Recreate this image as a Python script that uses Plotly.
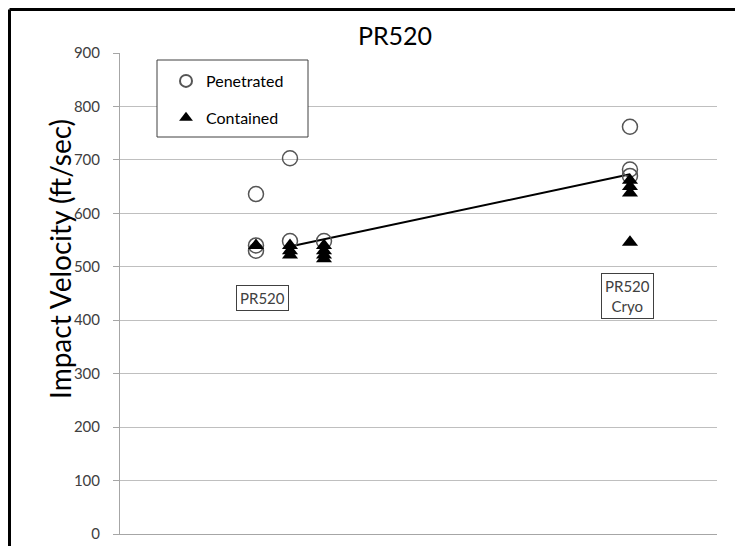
import plotly.graph_objects as go

# Data
pen_x = [1, 1, 1, 1.25, 1.25, 1.5, 3.75, 3.75, 3.75]
pen_y = [636, 540, 530, 703, 548, 548, 762, 682, 670]
con_x = [1, 1.25, 1.25, 1.25, 1.5, 1.5, 1.5, 1.5, 3.75, 3.75, 3.75, 3.75]
con_y = [540, 540, 530, 522, 540, 530, 522, 515, 662, 650, 638, 546]
trend_x = [1.25, 3.75]
trend_y = [538, 673]
label_x = [1.045, 3.735]
label_y = [441, 446]
label_text = ["PR520", "PR520<br>Cryo"]
yticks = [0, 100, 200, 300, 400, 500, 600, 700, 800, 900]

FONT = "Lato, 'Open Sans', sans-serif"

# screen-pixel helpers (page body has an 8px margin; plot area spans x 120..717, y 53..534)
def px(p):
    return (p - 120) / 597

def py(p):
    return (534 - p) / 481

fig = go.Figure()
fig.add_trace(go.Scatter(
    x=trend_x, y=trend_y, mode="lines",
    line=dict(color="black", width=2), showlegend=False, hoverinfo="skip"))
fig.add_trace(go.Scatter(
    x=pen_x, y=pen_y, mode="markers", name="Penetrated", legendgroup="a",
    marker=dict(symbol="circle-open", size=15, color="#555555",
                line=dict(color="#555555", width=1.5))))
fig.add_trace(go.Scatter(
    x=con_x, y=con_y, mode="markers", name="Contained", legendgroup="b",
    marker=dict(symbol="triangle-up", size=14, color="black")))

for lx, ly, lt in zip(label_x, label_y, label_text):
    fig.add_annotation(x=lx, y=ly, text=lt, showarrow=False,
                       font=dict(family=FONT, size=15, color="#404040"),
                       bordercolor="#404040", borderwidth=1, borderpad=3,
                       bgcolor="white")

# Legend box
fig.add_shape(type="rect", xref="paper", yref="paper",
              x0=px(157), x1=px(308), y0=py(137), y1=py(60),
              line=dict(color="#404040", width=1), fillcolor="white", layer="above")

# Outer border (left and top edges)
fig.add_shape(type="line", xref="paper", yref="paper",
              x0=px(9.5), x1=px(9.5), y0=py(560), y1=py(9.5),
              line=dict(color="black", width=3), layer="above")
fig.add_shape(type="line", xref="paper", yref="paper",
              x0=px(9.5), x1=px(743), y0=py(9.5), y1=py(9.5),
              line=dict(color="black", width=3), layer="above")

# Y-axis title
fig.add_annotation(xref="paper", yref="paper", x=px(41), y=py(259),
                   text="Impact Velocity (ft/sec)", textangle=-90, showarrow=False,
                   font=dict(family=FONT, size=28, color="black"))

fig.update_layout(
    width=743, height=546,
    margin=dict(l=112, r=34, t=45, b=20),
    paper_bgcolor="white", plot_bgcolor="white",
    font=dict(family=FONT),
    title=dict(text="PR520", x=px(395), xref="paper", xanchor="center",
               y=1 - 28 / 546, yanchor="middle", yref="container",
               font=dict(family=FONT, size=25, color="black")),
    legend=dict(x=px(166), y=py(64), xanchor="left", yanchor="top",
                bgcolor="rgba(0,0,0,0)", borderwidth=0, tracegroupgap=13,
                font=dict(family=FONT, size=16, color="black"), itemsizing="constant"),
    showlegend=True,
)
fig.update_xaxes(range=[0, 4.39], showgrid=False, showticklabels=False, zeroline=False,
                 showline=True, linecolor="#a6a6a6", linewidth=1, ticks="")
fig.update_yaxes(range=[0, 900], tickvals=yticks, showgrid=True, gridcolor="#bfbfbf",
                 gridwidth=1.3, zeroline=False, showline=True, linecolor="#a6a6a6",
                 linewidth=1, ticks="outside", ticklen=6, tickcolor="#a6a6a6",
                 ticklabelstandoff=10,
                 tickfont=dict(family=FONT, size=15, color="#404040"))

fig.write_html("out.html")
